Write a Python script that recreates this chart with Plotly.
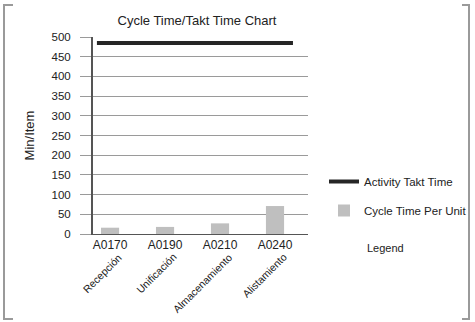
import plotly.graph_objects as go

activities = ["A0170", "A0190", "A0210", "A0240"]
activity_names = ["Recepción", "Unificación", "Almacenamiento", "Alistamiento"]
cycle_time = [16, 18, 27, 71]
takt_time = [485, 485, 485, 485]
y_ticks = [0, 50, 100, 150, 200, 250, 300, 350, 400, 450, 500]

FONT = "Liberation Sans, Arial, sans-serif"

W, H = 475, 322
L, R, T, B = 93, 167, 37, 88
pw, ph = W - L - R, H - T - B


def px(x):
    return (x - L) / pw


def py(y):
    return (H - B - y) / ph


fig = go.Figure()
fig.add_trace(go.Scatter(
    x=activities, y=takt_time, mode="lines", name="Activity Takt Time",
    line=dict(color="#262626", width=4), xaxis="x2", legendgroup="a",
))
fig.add_trace(go.Bar(
    x=activities, y=cycle_time, name="Cycle Time Per Unit",
    marker=dict(color="#bfbfbf", line=dict(width=0)), width=0.33, legendgroup="b",
))

annotations = []
for act, nm in zip(activities, activity_names):
    annotations.append(dict(
        x=act, y=0, xref="x", yref="y", text=nm, showarrow=False,
        textangle=-45, xanchor="right", yanchor="top", xshift=17, yshift=-14,
        font=dict(size=10.5, color="#222", family=FONT),
    ))
annotations.append(dict(
    x=px(385), y=py(248), xref="paper", yref="paper", text="Legend", showarrow=False,
    xanchor="center", yanchor="middle",
    font=dict(size=11, color="#222", family=FONT),
))

gray = "#9a9a9a"
shapes = [
    dict(type="path", xref="paper", yref="paper", line=dict(color=gray, width=2),
         path=f"M{px(13)},{py(5)} L{px(4)},{py(5)} L{px(4)},{py(319)} L{px(13)},{py(319)}"),
    dict(type="path", xref="paper", yref="paper", line=dict(color=gray, width=2),
         path=f"M{px(462)},{py(5)} L{px(469)},{py(5)} L{px(469)},{py(319)} L{px(462)},{py(319)}"),
]

fig.update_layout(
    width=W, height=H,
    margin=dict(l=L, r=R, t=T, b=B, autoexpand=False),
    paper_bgcolor="white", plot_bgcolor="white",
    font=dict(family=FONT, color="#222", size=12),
    title=dict(text="Cycle Time/Takt Time Chart", x=197 / W, xanchor="center",
               y=1 - 20 / H, yanchor="middle", font=dict(size=13, color="#222", family=FONT)),
    xaxis=dict(type="category", categoryorder="array", categoryarray=activities,
               range=[-0.31, 3.6], showgrid=False, showline=True, linecolor="#555", linewidth=1,
               ticks="", tickfont=dict(size=12, color="#222"), automargin=False, fixedrange=True),
    xaxis2=dict(type="category", categoryorder="array", categoryarray=activities,
                overlaying="x", range=[-0.06, 3.23], visible=False, automargin=False),
    yaxis=dict(range=[0, 500], tickvals=y_ticks, showgrid=True, gridcolor=gray, gridwidth=1,
               showline=True, linecolor="#555", linewidth=2, ticks="outside", ticklen=11,
               tickcolor=gray, tickfont=dict(size=11.5, color="#222"), ticklabelstandoff=7,
               zeroline=False, automargin=False,
               title=dict(text="Min/Item", font=dict(size=13, color="#222"), standoff=14)),
    legend=dict(x=px(324), y=py(167), xanchor="left", yanchor="top",
                font=dict(size=11.5, color="#222", family=FONT), tracegroupgap=10,
                bgcolor="rgba(0,0,0,0)"),
    showlegend=True,
    annotations=annotations,
    shapes=shapes,
)

fig.write_html(
    "out.html",
    config={"displayModeBar": False},
    post_script="document.body.style.margin='0';document.body.style.padding='0';",
)
